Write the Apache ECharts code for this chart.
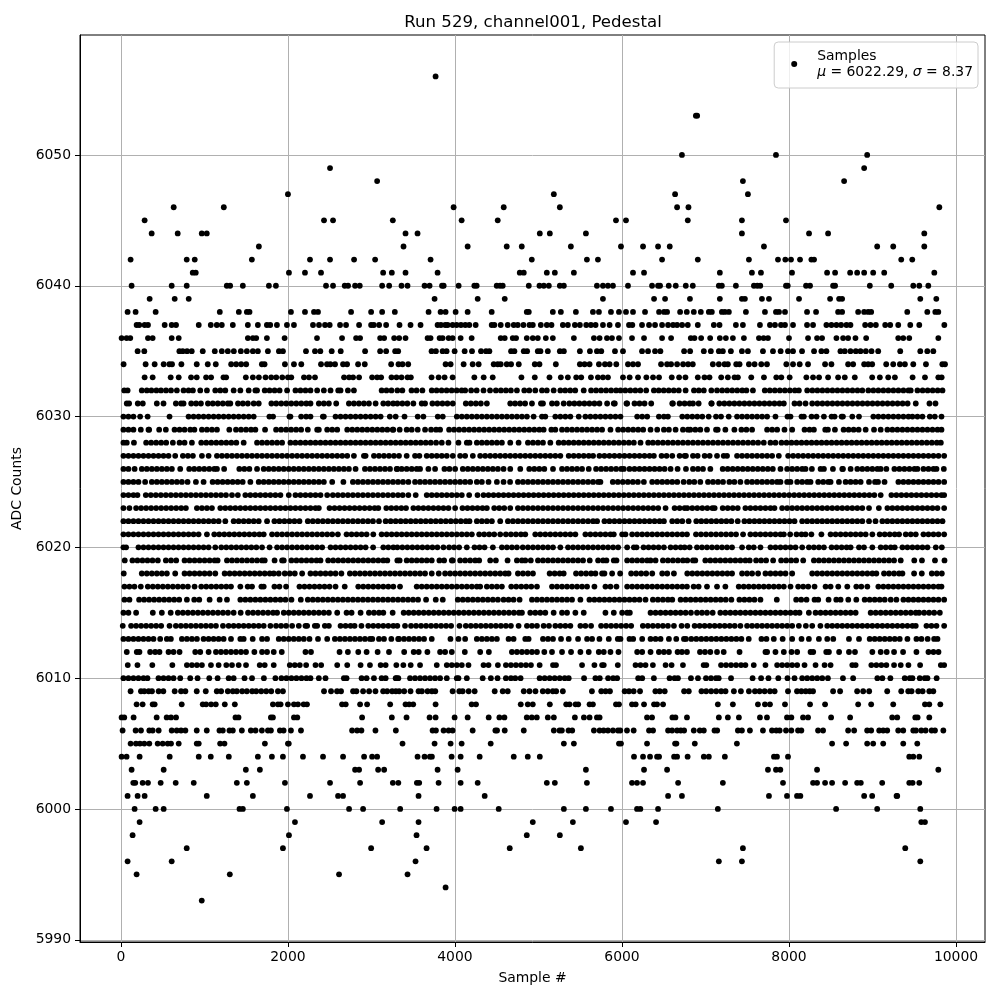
<!DOCTYPE html>
<html>
<head>
<meta charset="utf-8">
<title>Run 529 Pedestal</title>
<script src="https://cdn.jsdelivr.net/npm/echarts@6/dist/echarts.min.js"></script>
<style>
  html, body { margin: 0; padding: 0; background: #fff; }
  #chart { width: 1000px; height: 1000px; }
</style>
</head>
<body>
<div id="chart"></div>
<script>
// sample numbers seen at each ADC level
const s6056 = [3768];
const s6053 = [6885, 6900];
const s6050 = [6718, 7844, 8936];
const s6049 = [2504, 8900];
const s6048 = [3068, 7448, 8660];
const s6047 = [2000, 5184, 6636, 7508];
const s6046 = [632, 1232, 3984, 4584, 5256, 6660, 6796, 9800];
const s6045 = [284, 2432, 2540, 3256, 4080, 4512, 5928, 6048, 6788, 7436, 7964];
const s6044 = [368, 680, 968, 1028, 3408, 3552, 5016, 5136, 5568, 7436, 8240, 8468, 9620];
const s6043 = [1652, 3384, 4152, 4620, 4800, 5388, 5988, 6252, 6432, 6572, 7700, 9056, 9248, 9620];
const s6042 = [116, 788, 884, 1568, 2264, 2504, 2792, 3044, 3708, 4920, 5580, 5712, 6480, 6908, 7520, 7868, 7956, 8024, 8132, 8268, 8300, 9344, 9476];
const s6041 = [860, 896, 2012, 2204, 2396, 3140, 3244, 3408, 3792, 4776, 4824, 5100, 5196, 5424, 6132, 6264, 7172, 7556, 7664, 8036, 8456, 8552, 8732, 8816, 8900, 9008, 9140, 9740];
const s6040 = [128, 608, 788, 1268, 1308, 1460, 1772, 1856, 2456, 2540, 2680, 2720, 2804, 2860, 3128, 3212, 3360, 3432, 3636, 3696, 3845, 3865, 4044, 4232, 4260, 4500, 4540, 4572, 4884, 5012, 5064, 5124, 5256, 5304, 5700, 5772, 5832, 5892, 6072, 6360, 6432, 6456, 6560, 6644, 6764, 6848, 7160, 7196, 7364, 7580, 7620, 7656, 7964, 7985, 8204, 8252, 8528, 8552, 8968, 9224, 9488, 9560, 9668];
const s6039 = [344, 644, 812, 3756, 4272, 4596, 5772, 6384, 6516, 6814, 7172, 7436, 7472, 7676, 7760, 8120, 8492, 8600, 8636, 9572, 9764];
const s6038 = [80, 176, 416, 1184, 1412, 1508, 1540, 2036, 2204, 2312, 2360, 2756, 2996, 3128, 3280, 3684, 3828, 3888, 4008, 4152, 4440, 4860, 4884, 5172, 5268, 5448, 5652, 5724, 5868, 5964, 6048, 6132, 6276, 6444, 6504, 6540, 6696, 6776, 6860, 6944, 7040, 7076, 7196, 7232, 7280, 7484, 7712, 7844, 7880, 7952, 8216, 8324, 8588, 8636, 8828, 8900, 8948, 8984, 9416, 9656, 9752, 9788];
const s6037 = [188, 220, 284, 324, 524, 608, 660, 932, 1076, 1148, 1208, 1340, 1520, 1640, 1748, 1788, 1868, 1988, 2072, 2300, 2372, 2444, 2500, 2624, 2696, 2852, 2996, 3028, 3092, 3176, 3336, 3468, 3588, 3792, 3832, 3884, 3912, 3972, 4020, 4072, 4124, 4172, 4248, 4440, 4472, 4548, 4632, 4704, 4752, 4820, 4892, 4932, 5028, 5100, 5156, 5292, 5352, 5436, 5496, 5572, 5628, 5684, 5772, 5852, 5952, 6084, 6124, 6240, 6324, 6396, 6480, 6552, 6612, 6660, 6720, 6788, 6908, 7100, 7168, 7364, 7448, 7652, 7772, 7832, 7904, 7952, 8048, 8216, 8288, 8448, 8508, 8568, 8624, 8688, 8736, 8912, 8976, 9040, 9152, 9212, 9308, 9452, 9560, 9860];
const s6036 = [8, 68, 112, 324, 380, 608, 692, 1520, 1580, 1620, 1748, 1960, 2348, 2648, 2816, 2864, 3104, 3152, 3272, 3332, 3408, 3672, 3708, 3816, 3852, 3924, 3972, 4068, 4200, 4548, 4596, 4692, 4732, 4860, 4932, 4992, 5088, 5172, 5424, 5664, 5732, 5820, 5880, 5964, 6120, 6264, 6480, 6588, 6824, 6868, 6948, 7056, 7172, 7244, 7328, 7460, 7640, 7696, 7748, 8000, 8228, 8336, 8396, 8568, 8648, 8708, 8796, 8924, 9308, 9368, 9440, 9788];
const s6035 = [200, 280, 700, 740, 792, 848, 980, 1124, 1208, 1280, 1352, 1436, 1508, 1580, 1640, 1760, 1892, 1940, 2216, 2324, 2388, 2524, 2632, 2924, 3104, 3176, 3284, 3320, 3720, 3772, 3852, 3900, 3996, 4116, 4204, 4312, 4372, 4412, 4672, 4712, 4824, 4864, 4992, 5024, 5112, 5256, 5304, 5496, 5616, 5700, 5752, 5916, 6012, 6240, 6312, 6396, 6460, 6744, 6816, 6980, 7064, 7160, 7208, 7304, 7436, 7508, 7688, 7808, 7900, 7988, 8048, 8156, 8300, 8388, 8448, 8616, 8668, 8736, 8800, 8856, 8920, 8988, 9068, 9332, 9572, 9656, 9728];
const s6034 = [32, 296, 404, 512, 580, 612, 724, 908, 1040, 1136, 1320, 1380, 1440, 1500, 1688, 1720, 1964, 2072, 2160, 2396, 2468, 2508, 2564, 2660, 2708, 2840, 2920, 3236, 3324, 3372, 3440, 3888, 3948, 4104, 4212, 4284, 4464, 4512, 4548, 4620, 4672, 4764, 4956, 5012, 5208, 5496, 5552, 5612, 5724, 5796, 5852, 5932, 6072, 6132, 6192, 6468, 6540, 6588, 6660, 6732, 6792, 6848, 7088, 7160, 7228, 7268, 7368, 7408, 7520, 7588, 7668, 7736, 7968, 8048, 8128, 8228, 8432, 8508, 8708, 8768, 8900, 8948, 8996, 9164, 9248, 9328, 9388, 9488, 9640, 9836, 9868];
const s6033 = [284, 380, 596, 692, 840, 908, 1020, 1080, 1228, 1260, 1496, 1580, 1652, 1732, 1800, 1860, 1932, 2000, 2040, 2192, 2252, 2324, 2672, 2732, 2780, 2852, 3008, 3068, 3116, 3240, 3300, 3360, 3432, 3472, 3720, 3804, 3876, 3972, 4232, 4344, 4452, 4796, 4956, 5132, 5268, 5352, 5452, 5512, 5628, 5712, 5772, 5832, 6012, 6092, 6192, 6292, 6372, 6444, 6596, 6684, 6760, 6908, 6988, 7048, 7188, 7268, 7348, 7388, 7548, 7700, 7848, 7908, 8008, 8208, 8288, 8360, 8468, 8588, 8668, 8788, 8996, 9088, 9188, 9268, 9480, 9628, 9788, 9828];
const s6032 = [40, 80, 250, 310, 365, 425, 480, 540, 600, 670, 750, 810, 862, 950, 1030, 1130, 1190, 1250, 1350, 1430, 1530, 1610, 1630, 1722, 1780, 1840, 1900, 1990, 2090, 2150, 2210, 2270, 2350, 2430, 2510, 2602, 2630, 2718, 2790, 3122, 3180, 3240, 3310, 3370, 3480, 3540, 3610, 3722, 3780, 3840, 3900, 3960, 4020, 4080, 4122, 4194, 4260, 4342, 4420, 4490, 4550, 4610, 4670, 4742, 4830, 4890, 4962, 5042, 5100, 5182, 5262, 5320, 5380, 5440, 5542, 5630, 5690, 5750, 5810, 5870, 5930, 5982, 6040, 6100, 6160, 6220, 6290, 6382, 6440, 6500, 6560, 6620, 6680, 6762, 6862, 6920, 6980, 7070, 7138, 7200, 7260, 7320, 7380, 7440, 7490, 7568, 7710, 7770, 7830, 7890, 7950, 8010, 8070, 8118, 8218, 8280, 8340, 8400, 8460, 8520, 8580, 8640, 8700, 8760, 8820, 8878, 8950, 9010, 9070, 9130, 9190, 9250, 9310, 9370, 9430, 9458, 9538, 9600, 9660, 9720, 9780, 9838];
const s6031 = [70, 98, 202, 262, 430, 510, 658, 720, 750, 842, 900, 958, 1042, 1100, 1160, 1220, 1280, 1310, 1402, 1460, 1520, 1590, 1650, 1802, 1860, 1920, 1980, 2040, 2100, 2160, 2220, 2270, 2370, 2430, 2490, 2578, 2730, 2790, 2850, 2910, 2970, 3050, 3142, 3200, 3260, 3310, 3370, 3430, 3502, 3602, 3642, 3730, 3790, 3850, 3910, 3974, 4130, 4190, 4250, 4310, 4382, 4662, 4720, 4780, 4840, 4922, 5030, 5054, 5162, 5220, 5302, 5370, 5430, 5490, 5550, 5610, 5670, 5730, 5822, 5902, 5914, 6054, 6062, 6150, 6210, 6270, 6350, 6602, 6610, 6690, 6750, 6810, 6850, 6918, 7070, 7074, 7166, 7226, 7286, 7346, 7406, 7466, 7526, 7586, 7646, 7706, 7766, 7826, 7886, 7938, 8066, 8126, 8198, 8278, 8340, 8400, 8460, 8520, 8580, 8640, 8700, 8760, 8820, 8880, 8940, 9000, 9060, 9120, 9180, 9240, 9300, 9360, 9420, 9518, 9682, 9754];
const s6030 = [30, 90, 150, 230, 320, 582, 810, 870, 930, 990, 1050, 1110, 1170, 1230, 1290, 1350, 1410, 1470, 1530, 1590, 1778, 1822, 2018, 2030, 2158, 2218, 2270, 2418, 2430, 2570, 2630, 2690, 2750, 2810, 2870, 2930, 2990, 3050, 3110, 3220, 3290, 3396, 3554, 3622, 3794, 3854, 4022, 4082, 4142, 4202, 4262, 4322, 4382, 4442, 4502, 4562, 4622, 4682, 4742, 4802, 4862, 4942, 5042, 5082, 5202, 5262, 5322, 5382, 5482, 5562, 5622, 5682, 5742, 5802, 5862, 5922, 5982, 6182, 6242, 6302, 6442, 6502, 6550, 6722, 6782, 6842, 6902, 6962, 7038, 7126, 7186, 7278, 7378, 7438, 7498, 7558, 7618, 7678, 7738, 7838, 7982, 8018, 8150, 8178, 8270, 8330, 8418, 8510, 8546, 8630, 8646, 8758, 8838, 9010, 9070, 9130, 9190, 9250, 9310, 9370, 9430, 9478, 9538, 9598, 9686, 9746, 9826];
const s6029 = [30, 90, 150, 238, 330, 338, 458, 538, 642, 702, 762, 830, 880, 970, 1030, 1090, 1150, 1298, 1378, 1438, 1498, 1558, 1610, 1726, 1858, 1918, 1978, 2038, 2098, 2158, 2238, 2350, 2370, 2470, 2530, 2590, 2710, 2770, 2830, 2890, 2950, 3010, 3070, 3130, 3190, 3262, 3254, 3338, 3422, 3482, 3554, 3642, 3714, 3774, 3822, 3930, 3990, 4050, 4110, 4170, 4230, 4290, 4350, 4410, 4470, 4530, 4590, 4650, 4710, 4770, 4830, 4890, 4950, 5010, 5062, 5154, 5202, 5282, 5342, 5402, 5462, 5522, 5582, 5642, 5702, 5762, 5862, 5954, 6014, 6074, 6134, 6194, 6254, 6342, 6422, 6502, 6562, 6642, 6730, 6790, 6818, 6878, 6938, 7018, 7126, 7146, 7238, 7346, 7430, 7490, 7558, 7738, 7798, 7858, 7946, 8038, 8186, 8246, 8298, 8434, 8466, 8550, 8654, 8714, 8774, 8834, 8918, 9018, 9098, 9178, 9238, 9298, 9358, 9418, 9478, 9538, 9598, 9658, 9718, 9778, 9826];
const s6028 = [30, 70, 156, 302, 362, 422, 482, 542, 622, 702, 762, 850, 962, 1022, 1082, 1142, 1202, 1262, 1322, 1382, 1470, 1630, 1690, 1750, 1810, 1870, 1930, 2030, 2090, 2150, 2210, 2270, 2330, 2390, 2450, 2510, 2570, 2630, 2690, 2750, 2810, 2870, 2930, 2990, 3050, 3110, 3170, 3230, 3290, 3350, 3410, 3470, 3530, 3590, 3650, 3710, 3774, 3842, 3922, 4042, 4142, 4174, 4262, 4322, 4382, 4442, 4502, 4562, 4662, 4762, 4874, 4934, 4994, 5054, 5142, 5242, 5302, 5362, 5422, 5482, 5542, 5602, 5662, 5722, 5782, 5842, 5902, 5962, 6022, 6082, 6142, 6222, 6314, 6370, 6430, 6490, 6550, 6610, 6670, 6730, 6790, 6850, 6910, 6970, 7030, 7090, 7150, 7210, 7270, 7330, 7390, 7450, 7510, 7570, 7630, 7698, 7778, 7838, 7910, 7970, 8030, 8090, 8150, 8210, 8270, 8330, 8390, 8450, 8510, 8570, 8630, 8690, 8750, 8810, 8870, 8930, 8990, 9050, 9110, 9170, 9230, 9290, 9350, 9410, 9470, 9530, 9590, 9650, 9710, 9770, 9818];
const s6027 = [30, 90, 150, 210, 270, 330, 390, 450, 510, 570, 650, 742, 802, 862, 970, 1050, 1150, 1210, 1270, 1330, 1390, 1450, 1510, 1570, 1630, 1690, 1750, 1810, 1870, 1930, 1990, 2050, 2110, 2170, 2230, 2290, 2350, 2410, 2470, 2530, 2590, 2650, 2710, 2790, 2910, 2930, 3030, 3090, 3150, 3210, 3270, 3330, 3422, 3522, 3574, 3662, 3722, 3782, 3842, 3902, 3974, 4062, 4122, 4214, 4302, 4362, 4422, 4482, 4542, 4602, 4662, 4722, 4782, 4842, 4902, 4962, 5022, 5082, 5142, 5202, 5262, 5362, 5422, 5482, 5542, 5602, 5654, 5730, 5790, 5850, 5910, 5970, 6030, 6090, 6150, 6210, 6270, 6330, 6382, 6474, 6534, 6602, 6690, 6750, 6766, 6850, 6906, 6990, 7050, 7138, 7218, 7258, 7378, 7438, 7498, 7558, 7618, 7678, 7738, 7798, 7878, 7990, 8050, 8110, 8170, 8230, 8290, 8350, 8410, 8470, 8530, 8590, 8650, 8710, 8770, 8830, 8890, 8950, 9010, 9070, 9130, 9190, 9250, 9310, 9370, 9430, 9490, 9550, 9610, 9670, 9730, 9790, 9858];
const s6026 = [30, 90, 164, 250, 310, 370, 430, 490, 550, 610, 710, 818, 878, 938, 998, 1058, 1118, 1150, 1236, 1418, 1478, 1538, 1630, 1710, 1770, 1830, 1890, 1950, 2010, 2070, 2130, 2190, 2250, 2310, 2370, 2430, 2490, 2550, 2610, 2670, 2730, 2810, 2922, 2982, 3042, 3102, 3162, 3222, 3310, 3302, 3362, 3422, 3482, 3542, 3582, 3682, 3762, 3874, 3934, 4002, 4094, 4154, 4214, 4274, 4334, 4394, 4454, 4514, 4582, 4662, 4782, 4890, 4950, 5010, 5070, 5174, 5282, 5342, 5402, 5462, 5522, 5602, 5690, 5750, 5810, 5870, 5930, 5990, 6022, 6090, 6150, 6210, 6270, 6330, 6390, 6450, 6510, 6582, 6666, 6766, 6850, 6910, 6970, 7058, 7206, 7266, 7326, 7386, 7446, 7506, 7566, 7626, 7686, 7746, 7806, 7898, 7978, 8038, 8098, 8158, 8198, 8274, 8378, 8418, 8526, 8638, 8646, 8738, 8818, 8878, 8938, 8998, 9058, 9098, 9166, 9262, 9322, 9382, 9442, 9502, 9538, 9610, 9670, 9730, 9766, 9854];
const s6025 = [30, 90, 150, 210, 290, 370, 430, 490, 550, 610, 670, 730, 798, 898, 990, 1098, 1158, 1218, 1278, 1338, 1398, 1458, 1550, 1650, 1710, 1770, 1830, 1890, 1950, 2010, 2070, 2130, 2190, 2250, 2310, 2370, 2430, 2530, 2664, 2778, 2838, 2898, 2958, 3018, 3078, 3138, 3198, 3258, 3318, 3378, 3442, 3522, 3582, 3642, 3702, 3762, 3822, 3882, 3942, 4002, 4062, 4122, 4182, 4262, 4322, 4402, 4502, 4582, 4660, 4754, 4814, 4874, 4934, 4994, 5054, 5114, 5174, 5234, 5294, 5354, 5414, 5474, 5534, 5594, 5654, 5714, 5742, 5890, 5950, 6010, 6070, 6130, 6190, 6262, 6362, 6422, 6482, 6542, 6602, 6662, 6738, 6806, 6866, 6938, 7030, 7090, 7150, 7210, 7286, 7346, 7418, 7498, 7558, 7618, 7678, 7738, 7798, 7858, 7898, 7978, 8018, 8098, 8158, 8218, 8258, 8350, 8410, 8470, 8498, 8598, 8678, 8738, 8798, 8858, 8958, 9030, 9066, 9144, 9310, 9370, 9430, 9490, 9550, 9610, 9670, 9730, 9790, 9858];
const s6024 = [30, 90, 150, 198, 298, 358, 418, 478, 538, 598, 658, 718, 778, 838, 898, 958, 1018, 1078, 1138, 1198, 1258, 1330, 1400, 1490, 1550, 1610, 1670, 1730, 1790, 1850, 1910, 2010, 2090, 2150, 2210, 2270, 2330, 2390, 2470, 2538, 2598, 2658, 2718, 2778, 2838, 2898, 2958, 3018, 3078, 3138, 3198, 3258, 3318, 3374, 3442, 3530, 3662, 3722, 3782, 3842, 3902, 3962, 4022, 4082, 4170, 4270, 4342, 4402, 4462, 4522, 4582, 4642, 4702, 4762, 4822, 4882, 4942, 5002, 5062, 5122, 5182, 5242, 5302, 5362, 5422, 5482, 5542, 5602, 5662, 5722, 5782, 5842, 5902, 5962, 6022, 6082, 6142, 6202, 6262, 6322, 6382, 6442, 6502, 6562, 6622, 6682, 6742, 6802, 6862, 6922, 6982, 7042, 7102, 7162, 7222, 7282, 7342, 7402, 7462, 7522, 7582, 7642, 7702, 7762, 7822, 7882, 7942, 8002, 8062, 8122, 8182, 8242, 8302, 8362, 8422, 8482, 8542, 8602, 8662, 8722, 8782, 8842, 8902, 8962, 9022, 9098, 9226, 9286, 9346, 9406, 9466, 9526, 9586, 9646, 9706, 9766, 9826, 9858];
const s6023 = [30, 102, 182, 242, 302, 362, 422, 482, 542, 602, 662, 722, 778, 910, 970, 1030, 1090, 1190, 1250, 1310, 1370, 1430, 1490, 1550, 1610, 1670, 1730, 1790, 1850, 1910, 1970, 2030, 2090, 2150, 2210, 2270, 2330, 2370, 2498, 2558, 2618, 2678, 2738, 2798, 2858, 2918, 2978, 3038, 3082, 3178, 3238, 3298, 3358, 3414, 3502, 3562, 3622, 3682, 3742, 3802, 3862, 3922, 4002, 4090, 4150, 4210, 4270, 4330, 4382, 4470, 4530, 4590, 4662, 4754, 4814, 4874, 4934, 4994, 5054, 5114, 5174, 5234, 5294, 5354, 5414, 5474, 5534, 5594, 5654, 5714, 5774, 5834, 5894, 5954, 6014, 6074, 6134, 6194, 6254, 6314, 6374, 6434, 6522, 6630, 6690, 6750, 6782, 6842, 6902, 6962, 7022, 7082, 7110, 7206, 7266, 7326, 7386, 7478, 7538, 7598, 7658, 7718, 7778, 7826, 7918, 7978, 8038, 8098, 8158, 8218, 8278, 8338, 8398, 8458, 8518, 8578, 8638, 8698, 8758, 8818, 8878, 8958, 9076, 9178, 9238, 9298, 9358, 9418, 9478, 9538, 9598, 9658, 9718, 9778, 9858];
const s6022 = [30, 90, 150, 210, 270, 330, 390, 450, 510, 570, 630, 690, 750, 810, 870, 930, 990, 1050, 1110, 1170, 1250, 1350, 1410, 1470, 1530, 1590, 1650, 1750, 1838, 1898, 1958, 2018, 2078, 2138, 2238, 2298, 2358, 2418, 2478, 2538, 2598, 2658, 2718, 2778, 2838, 2898, 2958, 3018, 3090, 3170, 3230, 3290, 3350, 3410, 3470, 3530, 3590, 3650, 3710, 3770, 3830, 3890, 3950, 4010, 4070, 4130, 4174, 4262, 4322, 4382, 4442, 4542, 4634, 4694, 4754, 4814, 4874, 4934, 4994, 5054, 5114, 5174, 5234, 5294, 5354, 5414, 5474, 5534, 5594, 5654, 5702, 5790, 5850, 5910, 5970, 6030, 6090, 6150, 6210, 6270, 6330, 6390, 6450, 6502, 6602, 6662, 6722, 6798, 6890, 6950, 7010, 7070, 7130, 7190, 7250, 7310, 7386, 7466, 7526, 7586, 7646, 7706, 7766, 7826, 7886, 7946, 8006, 8066, 8158, 8218, 8278, 8338, 8398, 8458, 8518, 8578, 8638, 8698, 8758, 8818, 8878, 8958, 9036, 9118, 9178, 9238, 9298, 9358, 9418, 9478, 9538, 9598, 9658, 9718, 9778, 9838];
const s6021 = [30, 90, 150, 210, 270, 330, 390, 450, 510, 570, 630, 690, 750, 810, 870, 930, 1030, 1118, 1178, 1238, 1298, 1358, 1418, 1478, 1538, 1598, 1658, 1710, 1810, 1870, 1930, 1990, 2050, 2110, 2170, 2230, 2290, 2350, 2410, 2470, 2530, 2598, 2702, 2762, 2822, 2882, 2942, 3022, 3122, 3182, 3242, 3302, 3362, 3422, 3482, 3542, 3602, 3662, 3722, 3782, 3842, 3902, 3962, 4022, 4082, 4142, 4202, 4290, 4350, 4410, 4470, 4542, 4610, 4670, 4730, 4790, 4842, 4962, 5022, 5082, 5142, 5202, 5262, 5322, 5382, 5442, 5562, 5622, 5682, 5742, 5802, 5862, 5902, 6002, 6042, 6122, 6182, 6242, 6302, 6362, 6422, 6482, 6542, 6602, 6662, 6722, 6778, 6886, 6946, 7006, 7066, 7126, 7186, 7246, 7306, 7366, 7450, 7538, 7598, 7658, 7718, 7778, 7838, 7898, 7938, 8014, 8090, 8150, 8198, 8268, 8388, 8498, 8558, 8618, 8678, 8738, 8798, 8858, 8918, 8998, 9086, 9146, 9206, 9266, 9318, 9398, 9458, 9518, 9610, 9670, 9730, 9790, 9858];
const s6020 = [30, 62, 210, 270, 330, 390, 450, 510, 570, 630, 690, 750, 810, 870, 930, 990, 1050, 1130, 1202, 1262, 1322, 1382, 1442, 1502, 1562, 1622, 1690, 1780, 1870, 1930, 1990, 2050, 2110, 2170, 2230, 2290, 2350, 2410, 2510, 2570, 2630, 2690, 2750, 2810, 2870, 2930, 3020, 3142, 3202, 3262, 3310, 3370, 3430, 3490, 3550, 3610, 3670, 3730, 3790, 3862, 3930, 3990, 4050, 4142, 4234, 4294, 4354, 4454, 4562, 4622, 4682, 4742, 4812, 4874, 4934, 4994, 5054, 5114, 5174, 5262, 5354, 5414, 5474, 5534, 5594, 5654, 5714, 5774, 5834, 5894, 5954, 6062, 6142, 6174, 6258, 6318, 6378, 6438, 6502, 6582, 6642, 6702, 6750, 6810, 6898, 6958, 7018, 7078, 7138, 7198, 7258, 7318, 7438, 7518, 7578, 7658, 7778, 7838, 7898, 7958, 8018, 8078, 8158, 8238, 8298, 8358, 8418, 8510, 8570, 8630, 8690, 8738, 8838, 8898, 8998, 9098, 9158, 9218, 9266, 9358, 9418, 9478, 9538, 9598, 9658, 9758, 9830];
const s6019 = [46, 138, 198, 258, 318, 378, 442, 538, 600, 662, 762, 822, 882, 942, 1002, 1062, 1122, 1158, 1270, 1330, 1390, 1450, 1510, 1570, 1630, 1690, 1722, 1840, 1930, 1950, 2042, 2102, 2162, 2222, 2282, 2342, 2390, 2482, 2542, 2602, 2662, 2722, 2782, 2842, 2902, 2962, 3022, 3082, 3142, 3190, 3310, 3338, 3422, 3482, 3542, 3602, 3662, 3722, 3814, 3870, 3962, 3974, 4062, 4122, 4182, 4242, 4290, 4422, 4490, 4630, 4742, 4802, 4842, 4908, 4994, 5054, 5114, 5174, 5234, 5294, 5354, 5414, 5474, 5534, 5614, 5714, 5774, 5814, 5902, 5934, 6062, 6122, 6182, 6242, 6302, 6342, 6402, 6490, 6550, 6610, 6670, 6730, 6782, 6850, 6878, 6998, 7058, 7118, 7178, 7238, 7298, 7358, 7418, 7478, 7530, 7606, 7666, 7726, 7810, 7906, 7966, 8026, 8086, 8170, 8298, 8358, 8418, 8478, 8538, 8598, 8658, 8718, 8778, 8838, 8898, 8958, 9018, 9078, 9138, 9198, 9258, 9338, 9500, 9592, 9748, 9862];
const s6018 = [34, 250, 310, 370, 430, 490, 550, 650, 762, 822, 882, 942, 1002, 1062, 1130, 1242, 1302, 1362, 1422, 1482, 1542, 1602, 1662, 1722, 1782, 1830, 1890, 1962, 2022, 2082, 2170, 2270, 2330, 2390, 2450, 2510, 2570, 2640, 2742, 2802, 2862, 2922, 2982, 3042, 3102, 3162, 3222, 3282, 3342, 3402, 3462, 3522, 3582, 3642, 3722, 3806, 3882, 3942, 4002, 4062, 4122, 4182, 4242, 4302, 4362, 4422, 4482, 4542, 4602, 4642, 4754, 4814, 4874, 4934, 5134, 5194, 5254, 5302, 5450, 5510, 5570, 5630, 5682, 5762, 5790, 5882, 5978, 6110, 6170, 6230, 6290, 6362, 6482, 6542, 6622, 6782, 6842, 6902, 6962, 7022, 7082, 7142, 7202, 7262, 7318, 7438, 7498, 7558, 7630, 7718, 7778, 7838, 7898, 7958, 8038, 8278, 8338, 8398, 8458, 8518, 8578, 8638, 8698, 8758, 8818, 8878, 8938, 8998, 9046, 9138, 9198, 9258, 9318, 9358, 9498, 9590, 9710, 9770, 9830];
const s6017 = [42, 102, 162, 238, 322, 382, 442, 502, 562, 622, 682, 742, 802, 882, 962, 1022, 1082, 1142, 1202, 1262, 1318, 1430, 1518, 1570, 1682, 1710, 1838, 1898, 1978, 2138, 2198, 2258, 2318, 2378, 2438, 2498, 2570, 2680, 2842, 2902, 2962, 3022, 3082, 3142, 3202, 3262, 3342, 3542, 3602, 3662, 3722, 3782, 3842, 3902, 3962, 4022, 4082, 4142, 4202, 4262, 4302, 4382, 4442, 4502, 4562, 4674, 4734, 4794, 4854, 4914, 4982, 5162, 5222, 5282, 5342, 5402, 5462, 5522, 5582, 5670, 5802, 5862, 5934, 6062, 6122, 6182, 6242, 6302, 6362, 6422, 6482, 6542, 6602, 6662, 6722, 6778, 6858, 6918, 7018, 7138, 7238, 7398, 7458, 7518, 7578, 7638, 7698, 7758, 7818, 7878, 7938, 8018, 8110, 8170, 8230, 8306, 8438, 8498, 8590, 8698, 8806, 8866, 8938, 9070, 9130, 9190, 9250, 9310, 9370, 9430, 9490, 9550, 9610, 9670, 9730, 9790, 9826];
const s6016 = [42, 102, 218, 278, 338, 398, 458, 518, 578, 638, 698, 790, 878, 938, 1062, 1182, 1270, 1430, 1490, 1550, 1610, 1670, 1730, 1790, 1850, 1910, 1970, 2042, 2154, 2238, 2298, 2358, 2418, 2478, 2538, 2598, 2658, 2718, 2778, 2838, 2898, 2958, 3018, 3078, 3138, 3198, 3258, 3318, 3378, 3438, 3498, 3558, 3654, 3770, 3854, 4034, 4094, 4154, 4214, 4274, 4334, 4394, 4454, 4514, 4582, 4642, 4702, 4774, 4922, 4982, 5042, 5102, 5162, 5222, 5282, 5342, 5402, 5502, 5610, 5670, 5730, 5790, 5850, 5910, 5970, 6030, 6090, 6150, 6210, 6282, 6370, 6430, 6490, 6550, 6602, 6702, 6762, 6822, 6882, 6942, 7002, 7062, 7122, 7182, 7242, 7310, 7406, 7466, 7526, 7586, 7658, 7854, 8086, 8146, 8210, 8306, 8350, 8474, 8566, 8618, 8710, 8806, 8906, 8966, 9026, 9086, 9146, 9218, 9286, 9370, 9430, 9490, 9550, 9610, 9670, 9730, 9790, 9858];
const s6015 = [30, 90, 182, 382, 490, 596, 682, 742, 802, 862, 922, 982, 1042, 1102, 1162, 1222, 1282, 1350, 1434, 1522, 1582, 1642, 1702, 1762, 1822, 1870, 1950, 2010, 2070, 2130, 2190, 2250, 2310, 2370, 2430, 2490, 2590, 2702, 2762, 2870, 2970, 3030, 3090, 3142, 3254, 3386, 3446, 3506, 3566, 3626, 3686, 3746, 3806, 3866, 3926, 3986, 4046, 4106, 4166, 4226, 4286, 4346, 4406, 4466, 4526, 4586, 4646, 4706, 4766, 4802, 4902, 4962, 5022, 5082, 5182, 5282, 5342, 5442, 5542, 5802, 5902, 6002, 6062, 6094, 6342, 6402, 6462, 6522, 6582, 6642, 6702, 6762, 6826, 6898, 6958, 7018, 7086, 7178, 7238, 7298, 7358, 7418, 7478, 7538, 7598, 7658, 7718, 7778, 7838, 7898, 7958, 8018, 8078, 8126, 8238, 8318, 8378, 8438, 8498, 8558, 8618, 8678, 8738, 8798, 8978, 9038, 9098, 9158, 9218, 9278, 9338, 9398, 9458, 9518, 9558, 9618, 9678, 9738, 9806];
const s6014 = [22, 122, 182, 242, 302, 362, 422, 482, 582, 658, 718, 778, 838, 898, 958, 1018, 1078, 1138, 1222, 1290, 1350, 1410, 1470, 1530, 1590, 1650, 1710, 1790, 1858, 1918, 1978, 2050, 2130, 2210, 2230, 2322, 2350, 2442, 2490, 2630, 2690, 2750, 2798, 2880, 2962, 3022, 3082, 3142, 3202, 3262, 3310, 3402, 3474, 3534, 3594, 3654, 3714, 3774, 3834, 3894, 3954, 4054, 4130, 4190, 4250, 4310, 4370, 4430, 4490, 4550, 4610, 4670, 4762, 4862, 4922, 4982, 5062, 5126, 5202, 5262, 5322, 5382, 5502, 5562, 5630, 5750, 5810, 5870, 5930, 5990, 6050, 6110, 6250, 6310, 6370, 6430, 6490, 6550, 6622, 6714, 6782, 6870, 6930, 6990, 7050, 7110, 7170, 7230, 7290, 7350, 7418, 7498, 7558, 7618, 7678, 7738, 7798, 7858, 7918, 7978, 8038, 8118, 8202, 8278, 8376, 8458, 8518, 8578, 8638, 8698, 8758, 8818, 8878, 8938, 8998, 9058, 9118, 9178, 9238, 9298, 9358, 9418, 9478, 9518, 9646, 9706, 9766, 9858];
const s6013 = [30, 90, 150, 210, 270, 330, 390, 470, 550, 598, 730, 790, 850, 910, 990, 1050, 1110, 1170, 1230, 1318, 1430, 1470, 1578, 1690, 1750, 1890, 1950, 2010, 2070, 2130, 2190, 2258, 2360, 2470, 2562, 2622, 2682, 2742, 2802, 2862, 2922, 2982, 3010, 3090, 3150, 3238, 3320, 3330, 3390, 3450, 3510, 3570, 3630, 3722, 3946, 4042, 4122, 4262, 4322, 4382, 4442, 4502, 4642, 4702, 4842, 4882, 5054, 5114, 5174, 5270, 5362, 5474, 5582, 5642, 5730, 5842, 5950, 5982, 6090, 6134, 6242, 6342, 6402, 6462, 6562, 6650, 6742, 6766, 6830, 6890, 6950, 7010, 7070, 7130, 7190, 7250, 7310, 7370, 7430, 7518, 7670, 7730, 7818, 7924, 8038, 8150, 8238, 8358, 8458, 8530, 8718, 8838, 8966, 9026, 9086, 9146, 9206, 9266, 9326, 9418, 9526, 9586, 9660, 9738, 9778];
const s6012 = [70, 190, 222, 350, 410, 462, 570, 630, 702, 890, 950, 1050, 1138, 1198, 1258, 1318, 1378, 1438, 1498, 1598, 1690, 1750, 1830, 1926, 2210, 2276, 2618, 2718, 2842, 2942, 3074, 3210, 3392, 3506, 3566, 3670, 3822, 3882, 3962, 4118, 4302, 4406, 4682, 4742, 4802, 4862, 4922, 4982, 5070, 5162, 5282, 5390, 5502, 5602, 5722, 5782, 5862, 5958, 6182, 6242, 6342, 6442, 6502, 6562, 6666, 6718, 6778, 6934, 6994, 7058, 7138, 7218, 7408, 7718, 7738, 7838, 7938, 8030, 8098, 8258, 8290, 8446, 8478, 8600, 8718, 8790, 8998, 9098, 9170, 9258, 9366, 9526, 9670, 9730, 9790];
const s6011 = [82, 198, 376, 616, 790, 850, 910, 970, 1078, 1170, 1262, 1330, 1410, 1498, 1662, 1722, 1830, 2022, 2082, 2142, 2218, 2330, 2398, 2590, 2710, 2870, 2982, 3110, 3170, 3298, 3382, 3470, 3582, 3782, 3902, 3962, 4022, 4082, 4162, 4342, 4402, 4514, 4610, 4670, 4730, 4790, 4850, 4910, 5014, 5174, 5210, 5522, 5670, 5762, 5782, 5950, 6162, 6222, 6282, 6370, 6522, 6594, 6730, 6978, 7010, 7186, 7246, 7306, 7366, 7426, 7478, 7578, 7718, 7858, 7918, 7978, 8038, 8098, 8186, 8318, 8426, 8498, 8758, 8798, 8986, 9046, 9106, 9166, 9258, 9338, 9430, 9570, 9818, 9858];
const s6010 = [30, 90, 150, 210, 270, 318, 450, 510, 570, 630, 710, 830, 918, 1058, 1158, 1290, 1350, 1480, 1570, 1712, 1850, 1922, 1982, 2042, 2102, 2162, 2222, 2270, 2370, 2450, 2670, 2702, 2882, 2942, 3030, 3122, 3170, 3302, 3290, 3322, 3462, 3522, 3582, 3642, 3702, 3762, 3822, 3902, 4022, 4042, 4142, 4332, 4430, 4510, 4610, 4670, 4722, 4786, 5014, 5074, 5134, 5194, 5254, 5314, 5362, 5546, 5682, 5734, 5834, 5894, 5942, 6194, 6242, 6382, 6570, 6630, 6670, 6826, 6910, 7006, 7066, 7126, 7158, 7306, 7564, 7666, 7754, 7872, 7982, 8066, 8158, 8218, 8278, 8338, 8398, 8466, 8646, 8768, 9058, 9118, 9214, 9386, 9446, 9478, 9566, 9626, 9658, 9768];
const s6009 = [116, 240, 280, 332, 372, 452, 508, 644, 720, 772, 908, 1016, 1148, 1200, 1280, 1340, 1388, 1452, 1508, 1572, 1620, 1680, 1740, 1800, 1880, 1940, 2432, 2516, 2588, 2636, 2780, 2820, 2900, 2972, 3048, 3140, 3188, 3248, 3292, 3332, 3392, 3468, 3564, 3604, 3672, 3724, 3764, 3972, 4052, 4092, 4164, 4236, 4476, 4572, 4632, 4824, 4892, 4964, 5052, 5112, 5172, 5212, 5292, 5640, 5752, 5804, 5856, 6032, 6084, 6140, 6216, 6400, 6452, 6512, 6744, 6800, 6952, 7008, 7068, 7128, 7188, 7240, 7340, 7424, 7520, 7592, 7648, 7708, 7772, 7828, 7988, 8096, 8148, 8200, 8248, 8288, 8528, 8612, 8816, 8888, 8960, 9176, 9344, 9428, 9468, 9548, 9600, 9680, 9728];
const s6008 = [188, 260, 380, 404, 728, 980, 1020, 1080, 1136, 1244, 1364, 1820, 1880, 1912, 2000, 2072, 2120, 2188, 2228, 2648, 2692, 2864, 2948, 3224, 3408, 3452, 3500, 3768, 4200, 4252, 4788, 4872, 4932, 5136, 5332, 5372, 5444, 5476, 5612, 5652, 5928, 5964, 6120, 6164, 6264, 6384, 6420, 6492, 7148, 7328, 7628, 7712, 7772, 7952, 8252, 8432, 8828, 8984, 9248, 9628, 9680, 9812];
const s6007 = [8, 40, 152, 428, 548, 600, 660, 1372, 1408, 1796, 1820, 2072, 2112, 2888, 3244, 3420, 3696, 3768, 3996, 4152, 4404, 4532, 4592, 4860, 4920, 4980, 5112, 5184, 5436, 5544, 5612, 5700, 5732, 6300, 6360, 6604, 6640, 6778, 7160, 7268, 7400, 7652, 7736, 7976, 8028, 8168, 8228, 8504, 8732, 9236, 9296, 9512, 9540, 9680];
const s6006 = [20, 176, 240, 340, 380, 452, 608, 668, 720, 772, 908, 1028, 1180, 1220, 1300, 1340, 1448, 1556, 1612, 1688, 1760, 1796, 1904, 1948, 2036, 2156, 2768, 2828, 2880, 3048, 3292, 3732, 3772, 3864, 3924, 3972, 4212, 4484, 4504, 4596, 4824, 5184, 5252, 5280, 5360, 5404, 5664, 5732, 5780, 5832, 5892, 5952, 5980, 6060, 6140, 6324, 6372, 6552, 6600, 6660, 6704, 6744, 6860, 6932, 6980, 7108, 7140, 7388, 7436, 7532, 7688, 7796, 7848, 7888, 7964, 8028, 8108, 8148, 8348, 8408, 8708, 8780, 8936, 8984, 9080, 9128, 9176, 9308, 9368, 9488, 9520, 9584, 9636, 9708, 9748, 9848];
const s6005 = [116, 180, 228, 280, 340, 440, 500, 560, 600, 692, 908, 932, 1188, 1240, 1724, 2000, 2010, 3372, 3756, 3948, 4080, 4428, 5304, 5424, 5964, 5988, 6300, 6636, 6652, 6872, 7376, 8516, 8684, 8936, 9008, 9128, 9368, 9536];
const s6004 = [8, 68, 224, 584, 932, 1076, 1292, 1640, 1808, 1940, 2180, 2420, 2660, 2912, 3008, 3068, 3552, 3636, 3700, 3724, 3960, 4068, 4296, 4704, 4872, 5016, 6144, 6252, 6336, 6420, 6444, 6624, 6660, 6786, 6980, 7040, 7232, 7820, 7856, 7988, 9440, 9488, 9560];
const s6003 = [128, 512, 1496, 1664, 2804, 2852, 3080, 3152, 3792, 4032, 5568, 6264, 6540, 7748, 7844, 7896, 8336, 9788];
const s6002 = [148, 172, 260, 324, 476, 656, 872, 1388, 1508, 1964, 2504, 2864, 3256, 3322, 3544, 3572, 3804, 4068, 4272, 5100, 5196, 5580, 6120, 6180, 6252, 6672, 7208, 7928, 8288, 8336, 8432, 8516, 8672, 8816, 8860, 9116, 9440, 9480, 9560];
const s6001 = [80, 200, 284, 1028, 1580, 2264, 2600, 2660, 3564, 4356, 6552, 6718, 7760, 7976, 8096, 8136, 8900, 8996, 9288, 9296];
const s6000 = [164, 416, 512, 1420, 1460, 1988, 2732, 2900, 3344, 3780, 3996, 4068, 4524, 5304, 5568, 5868, 6180, 6220, 6432, 7148, 8564, 9056, 9572];
const s5999 = [224, 2084, 3128, 3564, 4932, 5412, 6048, 6408, 9584, 9628];
const s5998 = [140, 2012, 3540, 4860, 5256];
const s5997 = [788, 1940, 2996, 3660, 4656, 5508, 7448, 9392];
const s5996 = [80, 608, 3528, 7160, 7436, 9572];
const s5995 = [188, 1304, 2612, 3432];
const s5994 = [3888];
const s5993 = [968];

const levels = [6056, 6053, 6050, 6049, 6048, 6047, 6046, 6045, 6044, 6043, 6042, 6041, 6040, 6039, 6038, 6037, 6036, 6035, 6034, 6033, 6032, 6031, 6030, 6029, 6028, 6027, 6026, 6025, 6024, 6023, 6022, 6021, 6020, 6019, 6018, 6017, 6016, 6015, 6014, 6013, 6012, 6011, 6010, 6009, 6008, 6007, 6006, 6005, 6004, 6003, 6002, 6001, 6000, 5999, 5998, 5997, 5996, 5995, 5994, 5993];
const samplesAtLevel = [s6056, s6053, s6050, s6049, s6048, s6047, s6046, s6045, s6044, s6043, s6042, s6041, s6040, s6039, s6038, s6037, s6036, s6035, s6034, s6033, s6032, s6031, s6030, s6029, s6028, s6027, s6026, s6025, s6024, s6023, s6022, s6021, s6020, s6019, s6018, s6017, s6016, s6015, s6014, s6013, s6012, s6011, s6010, s6009, s6008, s6007, s6006, s6005, s6004, s6003, s6002, s6001, s6000, s5999, s5998, s5997, s5996, s5995, s5994, s5993];

const xTicks = [0, 2000, 4000, 6000, 8000, 10000];
const yTicks = [5990, 6000, 6010, 6020, 6030, 6040, 6050];

const points = [];
for (let i = 0; i < levels.length; i++) {
  for (let j = 0; j < samplesAtLevel[i].length; j++) {
    points.push([samplesAtLevel[i][j], levels[i]]);
  }
}

const font = '"DejaVu Sans"';
const gridLine = { show: true, lineStyle: { color: '#b0b0b0', width: 1 } };
const plainNumber = function (v) { return String(v); };

const myChart = echarts.init(document.getElementById('chart'));
myChart.setOption({
  animation: false,
  backgroundColor: '#fff',
  textStyle: { fontFamily: font },
  title: {
    text: 'Run 529, channel001, Pedestal',
    left: 528,
    top: 9,
    textAlign: 'center',
    textStyle: { fontFamily: font, fontSize: 16.6, fontWeight: 'normal', color: '#000' }
  },
  grid: {
    left: 80,
    top: 35,
    right: 15,
    bottom: 58,
    outerBoundsMode: 'none',
    show: true,
    borderColor: '#000',
    borderWidth: 1,
    backgroundColor: 'transparent'
  },
  legend: {
    show: true,
    right: 22,
    top: 42,
    orient: 'vertical',
    padding: [6, 5, 8, 17],
    itemWidth: 36,
    itemHeight: 6,
    backgroundColor: 'rgba(255,255,255,0.8)',
    borderColor: '#ccc',
    borderWidth: 1,
    borderRadius: 4,
    formatter: function () {
      return 'Samples\n{i|\u03bc} = 6022.29, {i|\u03c3} = 8.37';
    },
    textStyle: {
      fontFamily: font,
      fontSize: 13.9,
      color: '#000',
      lineHeight: 16,
      rich: {
        i: { fontFamily: font, fontSize: 13.9, fontStyle: 'italic', color: '#000' }
      }
    }
  },
  xAxis: {
    type: 'value',
    min: -490,
    max: 10347,
    name: 'Sample #',
    nameLocation: 'middle',
    nameGap: 29,
    nameTextStyle: { fontFamily: font, fontSize: 13.9, color: '#000' },
    axisLine: { show: true, onZero: false, lineStyle: { color: '#000', width: 1 } },
    axisTick: { show: true, length: 5, customValues: xTicks, lineStyle: { color: '#000', width: 1 } },
    axisLabel: { customValues: xTicks, formatter: plainNumber, margin: 8, fontFamily: font, fontSize: 13.9, color: '#000' },
    splitLine: gridLine
  },
  yAxis: {
    type: 'value',
    min: 5989.83,
    max: 6059.17,
    name: 'ADC Counts',
    nameLocation: 'middle',
    nameGap: 53,
    nameTextStyle: { fontFamily: font, fontSize: 13.9, color: '#000' },
    axisLine: { show: true, onZero: false, lineStyle: { color: '#000', width: 1 } },
    axisTick: { show: true, length: 5, customValues: yTicks, lineStyle: { color: '#000', width: 1 } },
    axisLabel: { customValues: yTicks, formatter: plainNumber, margin: 9, fontFamily: font, fontSize: 13.9, color: '#000' },
    splitLine: gridLine
  },
  series: [{
    name: 'Samples',
    type: 'scatter',
    data: points,
    symbol: 'circle',
    symbolSize: 5.8,
    itemStyle: { color: '#000', opacity: 1 },
    silent: true
  }]
});
</script>
</body>
</html>
